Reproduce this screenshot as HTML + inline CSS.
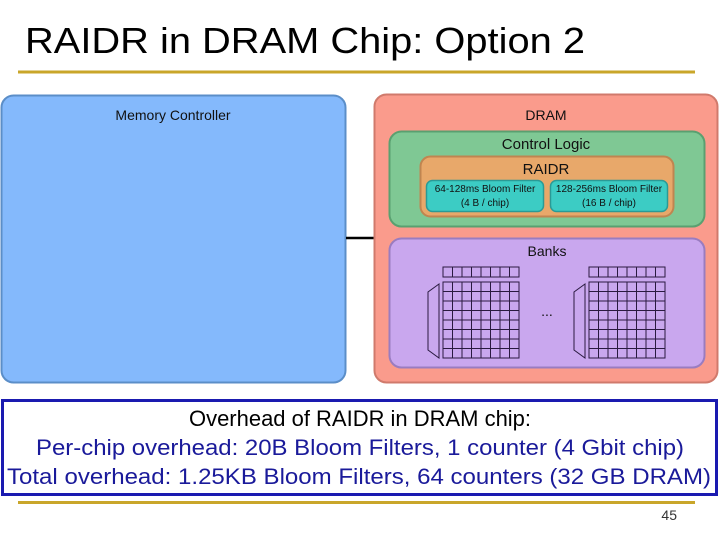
<!DOCTYPE html>
<html><head><style>
body{margin:0;background:#fff;width:720px;height:540px;overflow:hidden;font-family:"Liberation Sans",sans-serif}
</style></head><body>
<svg width="720" height="540" xmlns="http://www.w3.org/2000/svg" font-family="Liberation Sans, sans-serif">
<text x="25" y="53" font-size="36" fill="#000" textLength="560" lengthAdjust="spacingAndGlyphs">RAIDR in DRAM Chip: Option 2</text>
<line x1="18" y1="72" x2="695" y2="72" stroke="#c9a62a" stroke-width="3"/>
<rect x="1.5" y="95.5" width="344" height="287" rx="12" fill="#84b9fc" stroke="#5b8ec8" stroke-width="2"/>
<text x="173" y="120" font-size="14" text-anchor="middle" fill="#111">Memory Controller</text>
<line x1="346" y1="238" x2="374" y2="238" stroke="#000" stroke-width="2.5"/>
<rect x="374.5" y="94.5" width="343" height="288" rx="12" fill="#fa9b8c" stroke="#d07a6c" stroke-width="2"/>
<text x="546" y="120" font-size="14" text-anchor="middle" fill="#111">DRAM</text>
<rect x="389.5" y="131.5" width="315" height="95" rx="12" fill="#7fc894" stroke="#5aa070" stroke-width="2"/>
<text x="546" y="149" font-size="15" text-anchor="middle" fill="#111">Control Logic</text>
<rect x="420.5" y="156.5" width="253" height="60" rx="10" fill="#e8a86a" stroke="#c08550" stroke-width="2"/>
<text x="546" y="174" font-size="15" text-anchor="middle" fill="#111">RAIDR</text>
<rect x="426.5" y="180.5" width="117" height="31" rx="6" fill="#3cccc4" stroke="#2a9a96" stroke-width="1.5"/>
<rect x="550.5" y="180.5" width="117" height="31" rx="6" fill="#3cccc4" stroke="#2a9a96" stroke-width="1.5"/>
<text x="485" y="192" font-size="10" text-anchor="middle" fill="#111">64-128ms Bloom Filter</text>
<text x="485" y="206" font-size="10" text-anchor="middle" fill="#111">(4 B / chip)</text>
<text x="609" y="192" font-size="10" text-anchor="middle" fill="#111">128-256ms Bloom Filter</text>
<text x="609" y="206" font-size="10" text-anchor="middle" fill="#111">(16 B / chip)</text>
<rect x="389.5" y="238.5" width="315" height="129" rx="12" fill="#c9a7ee" stroke="#9a7cc0" stroke-width="2"/>
<text x="547" y="256" font-size="14" text-anchor="middle" fill="#111">Banks</text>
<g stroke="#2a1a40" stroke-width="1" fill="none">
<g id="gl">
<rect x="443" y="267" width="76" height="10"/>
<path d="M452.5 267V277M462 267V277M471.5 267V277M481 267V277M490.5 267V277M500 267V277M509.5 267V277"/>
<rect x="443" y="282" width="76" height="76"/>
<path d="M452.5 282V358M462 282V358M471.5 282V358M481 282V358M490.5 282V358M500 282V358M509.5 282V358"/>
<path d="M443 291.5H519M443 301H519M443 310.5H519M443 320H519M443 329.5H519M443 339H519M443 348.5H519"/>
<path d="M439 284L428 292V350L439 358Z"/>
</g>
<use href="#gl" transform="translate(146,0)"/>
</g>
<text x="547" y="316" font-size="14" text-anchor="middle" fill="#111">...</text>
<rect x="2.5" y="400.5" width="714" height="94" fill="#fff" stroke="#1a1ab0" stroke-width="3"/>
<text x="360" y="426" font-size="22" text-anchor="middle" fill="#000" textLength="342" lengthAdjust="spacingAndGlyphs">Overhead of RAIDR in DRAM chip:</text>
<text x="360" y="455" font-size="22" text-anchor="middle" fill="#1a1a9a" textLength="648" lengthAdjust="spacingAndGlyphs">Per-chip overhead: 20B Bloom Filters, 1 counter (4 Gbit chip)</text>
<text x="359" y="484" font-size="22" text-anchor="middle" fill="#1a1a9a" textLength="704" lengthAdjust="spacingAndGlyphs">Total overhead: 1.25KB Bloom Filters, 64 counters (32 GB DRAM)</text>
<line x1="18" y1="502.5" x2="695" y2="502.5" stroke="#c9a62a" stroke-width="3"/>
<text x="677" y="520" font-size="14" text-anchor="end" fill="#333">45</text>
</svg>
</body></html>
